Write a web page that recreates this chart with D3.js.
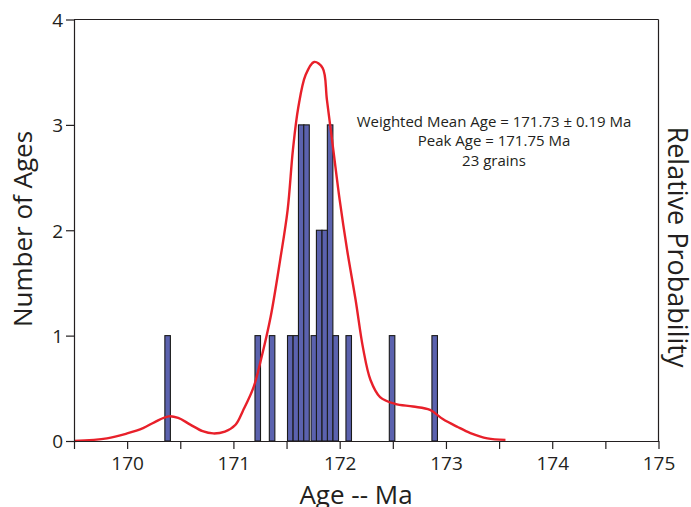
<!DOCTYPE html>
<html>
<head>
<meta charset="utf-8">
<script src="https://cdn.jsdelivr.net/npm/d3@7"></script>
<style>
  html, body { margin: 0; padding: 0; background: #fff; }
  svg { display: block; font-family: "Open Sans", "Noto Sans", sans-serif; }
</style>
</head>
<body>
<svg id="chart" width="691" height="507"></svg>
<script>
// Histogram bins: left edge of each bin (Ma) and the number of grains in it
const binStarts = [170.355, 171.203, 171.338, 171.509, 171.562, 171.612, 171.662,
                   171.731, 171.781, 171.834, 171.884, 171.937, 172.059, 172.467, 172.868];
const binCounts = [1, 1, 1, 1, 1, 3, 3, 1, 2, 2, 3, 1, 1, 1, 1];
const binWidth = 0.052;

// Relative probability curve (age in Ma, probability relative to the peak)
const probAges = [169.50, 169.81, 170.00, 170.15, 170.26, 170.39, 170.48, 170.59, 170.71,
                  170.81, 170.92, 171.02, 171.09, 171.19, 171.27, 171.35, 171.44, 171.51,
                  171.56, 171.61, 171.68, 171.76, 171.84, 171.88, 171.94, 172.00, 172.07,
                  172.15, 172.22, 172.29, 172.38, 172.52, 172.69, 172.85, 172.97, 173.11,
                  173.23, 173.39, 173.56];
const probValues = [0.000, 0.007, 0.020, 0.034, 0.050, 0.065, 0.061, 0.044, 0.026,
                    0.020, 0.025, 0.043, 0.080, 0.142, 0.227, 0.327, 0.478, 0.609,
                    0.768, 0.879, 0.966, 1.000, 0.984, 0.900, 0.768, 0.636, 0.504,
                    0.372, 0.245, 0.161, 0.116, 0.098, 0.091, 0.082, 0.058, 0.037,
                    0.021, 0.007, 0.003];

// Axis ticks
const xMajorTicks = [170, 171, 172, 173, 174, 175];
const xAllTicks = [169.5, 170, 170.5, 171, 171.5, 172, 172.5, 173, 173.5, 174, 174.5, 175];
const yTicks = [0, 1, 2, 3, 4];

const statsLines = ["Weighted Mean Age = 171.73 \u00B1 0.19 Ma",
                    "Peak Age = 171.75 Ma",
                    "23 grains"];

const ink = "#231f20";
const svg = d3.select("#chart");
const plotL = 74, plotR = 658.5, plotT = 19.5, plotB = 441;

const x = d3.scaleLinear().domain([169.5, 175]).range([plotL, plotR]);
const y = d3.scaleLinear().domain([0, 4]).range([plotB, plotT]);
const yRel = d3.scaleLinear().domain([0, 1.112]).range([plotB, plotT]);

// Bars
const bins = binStarts.map((s, i) => ({ start: s, count: binCounts[i] }));
svg.append("g")
  .selectAll("rect")
  .data(bins)
  .join("rect")
  .attr("x", d => x(d.start))
  .attr("width", d => x(d.start + binWidth) - x(d.start))
  .attr("y", d => y(d.count))
  .attr("height", d => y(0) - y(d.count))
  .attr("fill", "#5b62ae")
  .attr("stroke", "#1a1a1a")
  .attr("stroke-width", 1.1);

// Probability curve
const curvePts = probAges.map((a, i) => [a, probValues[i]]);
svg.append("path")
  .datum(curvePts)
  .attr("fill", "none")
  .attr("stroke", "#e8202a")
  .attr("stroke-width", 2.4)
  .attr("d", d3.line().x(d => x(d[0])).y(d => yRel(d[1])).curve(d3.curveCatmullRom.alpha(0.5)));

// Frame: top and right edges
svg.append("line").attr("x1", plotL).attr("x2", plotR).attr("y1", plotT).attr("y2", plotT)
  .attr("stroke", ink).attr("stroke-width", 1.2);
svg.append("line").attr("x1", plotR).attr("x2", plotR).attr("y1", plotT).attr("y2", plotB)
  .attr("stroke", ink).attr("stroke-width", 1.2);

// Bottom axis: ticks every 0.5 Ma, labels on whole numbers
const xAxis = svg.append("g").attr("transform", `translate(0,${plotB})`)
  .call(d3.axisBottom(x).tickValues(xAllTicks).tickSizeInner(8).tickSizeOuter(0)
    .tickFormat(d => xMajorTicks.includes(d) ? d3.format("d")(d) : ""));
xAxis.select(".domain").attr("stroke", ink).attr("stroke-width", 1.2);
xAxis.selectAll(".tick line").attr("stroke", ink).attr("stroke-width", 1.2);
xAxis.selectAll(".tick text").attr("fill", ink).attr("font-size", 19)
  .attr("font-family", "Open Sans, sans-serif").attr("dy", "0.95em");

// Left axis
const yAxis = svg.append("g").attr("transform", `translate(${plotL},0)`)
  .call(d3.axisLeft(y).tickValues(yTicks).tickSizeInner(8).tickSizeOuter(0).tickFormat(d3.format("d")));
yAxis.select(".domain").attr("stroke", ink).attr("stroke-width", 1.2);
yAxis.selectAll(".tick line").attr("stroke", ink).attr("stroke-width", 1.2);
yAxis.selectAll(".tick text").attr("fill", ink).attr("font-size", 19)
  .attr("font-family", "Open Sans, sans-serif").attr("x", -11).attr("dy", "0.36em");

// Axis titles
svg.append("text").attr("x", 356).attr("y", 504).attr("text-anchor", "middle")
  .attr("font-size", 26).attr("fill", ink).text("Age -- Ma");
svg.append("text").attr("transform", "translate(32,229) rotate(-90)").attr("text-anchor", "middle")
  .attr("font-size", 26).attr("fill", ink).text("Number of Ages");
svg.append("text").attr("transform", "translate(668,247) rotate(90)").attr("text-anchor", "middle")
  .attr("font-size", 27).attr("fill", ink).text("Relative Probability");

// Summary statistics
svg.append("g").selectAll("text")
  .data(statsLines)
  .join("text")
  .attr("x", 494)
  .attr("y", (d, i) => 126.5 + i * 19.5)
  .attr("text-anchor", "middle")
  .attr("font-size", 15)
  .attr("fill", ink)
  .text(d => d);
</script>
</body>
</html>
